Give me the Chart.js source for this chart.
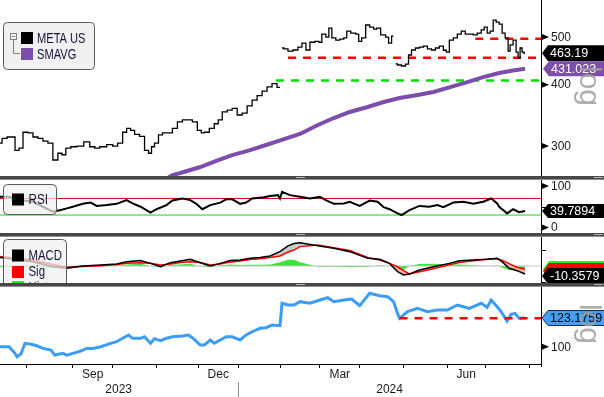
<!DOCTYPE html>
<html>
<head>
<meta charset="utf-8">
<script src="https://cdn.jsdelivr.net/npm/chart.js@4.4.1/dist/chart.umd.min.js"></script>
<style>
html,body{margin:0;padding:0;background:#fff;}
body{width:604px;height:397px;overflow:hidden;position:relative;}
canvas{position:absolute;left:0;display:block;}
.sep{position:absolute;left:0;width:604px;height:4px;background:#474747;}
.sep::after{content:'';position:absolute;left:0;right:0;bottom:0;height:1px;background:#8e8e8e;}
.grip{position:absolute;height:1px;width:9px;background:#b4b4b4;}
</style>
</head>
<body>
<canvas id="cPrice" width="604" height="176" style="top:0px"></canvas>
<canvas id="cRsi" width="604" height="53" style="top:180px"></canvas>
<canvas id="cMacd" width="604" height="46" style="top:237px"></canvas>
<canvas id="cRel" width="604" height="110" style="top:287px"></canvas>
<div class="sep" style="top:176px"><div class="grip" style="left:296px;top:1px"></div><div class="grip" style="left:594px;top:1px"></div></div>
<div class="sep" style="top:233px"><div class="grip" style="left:296px;top:1px"></div><div class="grip" style="left:594px;top:1px"></div></div>
<div class="sep" style="top:283px"><div class="grip" style="left:296px;top:1px"></div><div class="grip" style="left:594px;top:1px"></div></div>
<script>
// ---------- axis (trading-day index, 0 = 1 Aug 2023) ----------
const xMin = -13.55, xMax = 258.0;
const monthTickIdx = [0,23,43,65,86,106,127,147,167,189,211,230,252];
const monthNames = ['Sep','Dec','Mar','Jun'];
const monthNamePos = [33,96,157,220.5];
const yearNames = ['2023','2024'];
const yearNamePos = [46,182];
const yearBreakIdx = 106;

// ---------- META US price (close) ----------
const priceIdx = [-14,-11,-9,-7,-5,-3,-1,2,4,7,9,12,14,17,18,21,23,27,30,33,35,38,42,44,47,49,51,53,55,58,60,62,63,65,67,69,72,74,77,79,82,84,87,88,90,93,95,97,99,102,104,107,109,112,114,117,119,122,124,127,127.5,128,130,132,135,137,139,141,143,146,147,149,151,152,154,156,158,160,161,164,166,167,169,171,173,175,176,179,181,182,184,184.5,185,187,189,191,192,194,196,198,200,202,204,206,208,210,211,213,215,217,219,221,223,225,227,229,230,232,233,235,236,238,239,241,242,243,245,246,247,248,249,250];
const priceClose = [304,311,313,313,294,297,320,319,313,311,307,304,281,290,288,297,299,300,306,299,297,299,302,300,304,320,326,323,317,314,294,290,299,304,316,319,319,326,336,339,339,336,323,319,320,326,333,339,352,355,358,347,350,362,372,380,388,396,402,395,null,475,473,468,470.5,477,486,470.5,488,490,488,507,500,521.5,498,493,495,498,514,509.5,507,490,498,529,524,519,521.5,505,500,486,502,null,441,438.6,436.5,440.6,459.6,470.5,475,477,479,473,470.5,475,479,470,466,493,498,507,514,507,507,505,509.5,517,524,509.5,514,541.5,536,531,509.5,498,468,482,493,466,453,475,466,463.19];
const priceLast = 463.19;

// ---------- SMAVG ----------
const smaIdx = [71,73,77,87,95,103,112,120,129,137,146,154,162,171,179,187,196,204,212,221,229,237,244,250];
const smaVals = [259,261.9,264.4,271.9,279.7,287.5,294.4,301.5,310,317.4,331.1,342.1,351.9,360.2,368.7,375.7,381,386.4,395,404.9,414.5,422.5,427.5,431.023];
const smaLast = 431.023;

// ---------- price levels (dashed) ----------
const redLevels = [496, 454];
const redLevelStart = [225, 131];
const greenLevel = 408;
const greenLevelStart = 125;
const priceTicks = [300, 400, 500];

// ---------- RSI ----------
const rsiIdx = [-14,-9,-4,3,8,13,17,20,23,28,32,35,40,45,50,53,57,62,65,70,73,78,82,85,88,92,97,100,103,107,110,113,119,122,126,127,128,132,137,142,147,150,154,159,162,167,172,176,179,182,186,188,192,197,202,206,209,214,219,224,229,233,236,237,241,244,247,250];
const rsiVals = [74,74,66,62,50,38,42,46,50,57,60,52,54,57,66,58,50,36,44,54,65,70,66,57,44,54,60,68,68,57,60,70,73,76,78,70,86,78,74,70,74,66,57,58,62,52,65,62,49,44,34,30,42,52,50,54,49,60,62,57,62,70,58,50,34,44,37,39.7894];
const rsiLevels = [70, 30];
const rsiLast = 39.7894;

// ---------- MACD ----------
const macdIdx = [-14,-5,3,13,20,28,37,45,50,57,62,67,72,77,82,87,92,97,102,107,112,117,122,127,131,134,137,146,154,162,171,177,182,186,189,192,197,204,212,217,224,231,236,239,242,246,250];
const macdVals = [11,8,5.5,-1,-3,0,1.3,2.6,5.5,7,3.4,-1,4.3,6.5,8.6,4.3,0,3.4,7,7.7,10,11,13,18.5,26,29,30,26,23,18.5,10,8.6,3.4,-7.3,-11.6,-10.3,-5.2,-0.9,3.4,6.8,7.7,8.6,10,4.3,-3,-6,-10.3579];
const sigVals = [12.5,10,7.7,2,-1.7,-0.5,0.4,2,3.5,4.3,3.5,1.3,2.5,4.5,5.5,4.5,1.3,2.5,5,6.5,8.5,9.4,11,13,18,20.6,25,27,23.6,20,11,7.7,3.4,-1,-6,-10.3,-7.5,-3.5,1.5,4.5,6.8,8.6,9.4,7,3,-1.5,-4.3];
const histVals = [-1.5,-1,-2,-2,-1,0.5,1,0.6,2,3,0,-2,1.5,2,3,-0.5,-1.5,1,2,1.2,1.5,1.6,2,5,8,8,5,-1,-0.6,-1.5,-1,1,0,-5,-5,0,2.5,3,2,2,1,0,0.5,-2.5,-5,-4,-6];
const macdLast = -10.3579;

// ---------- relative line (blue) ----------
const relIdx = [-14,-9,-6,-5,-3,-1,2,5,8,12,14,18,20,23,27,30,33,37,42,45,48,51,53,57,59,62,64,67,70,73,78,81,83,87,89,92,94,97,100,103,107,110,113,117,120,123,127,128,131,134,137,142,147,151,154,159,163,167,172,177,181,184,186,187,191,196,201,206,211,216,219,222,228,231,233,236,238,241,243,245,247,250];
const relVals = [100,100,95.3,93,95,102.5,101.8,100.7,98.8,97.6,94.1,95.3,94.1,95.3,96.9,98.8,98.8,100,102.5,103.7,106.3,108.9,106.3,106.3,107.5,102.5,106,104.5,106.3,107.5,108.1,108.9,106.8,101.2,101.2,105,102.5,105,107.5,107.5,105,108.9,111.5,114.3,114.8,117,116.5,137.1,135.4,135.4,138.7,137.1,140.4,142.8,138.7,140.4,141.4,134.7,147.4,144.8,143.8,138.7,127.4,122.9,129,132.1,129,130.5,130.5,135.4,133.7,132.1,137.1,133.2,140.4,133.7,129,120.5,126.5,127.4,122.9,123.1759];
const relLevel = 123.0;
const relLevelStart = 187;
const relLast = 123.1759;

// ---------- helpers ----------
const FONT = '"Liberation Sans", Arial, sans-serif';
const pts = (xs, ys) => xs.map((x, i) => ({x: x, y: ys[i]}));
const hline = (v, x0) => [{x: x0, y: v}, {x: xMax, y: v}];

function tri(ctx, x, y) {
  ctx.beginPath(); ctx.moveTo(x, y - 3); ctx.lineTo(x + 7, y); ctx.lineTo(x, y + 3); ctx.closePath();
  ctx.fillStyle = '#000'; ctx.fill();
}
function tickLabel(ctx, txt, x, y) {
  ctx.fillStyle = '#1a1a1a'; ctx.font = '12px ' + FONT; ctx.textBaseline = 'middle'; ctx.textAlign = 'left';
  ctx.fillText(txt, x, y);
}
function minorTick(ctx, x, y) {
  ctx.beginPath(); ctx.moveTo(x, Math.round(y) + 0.5); ctx.lineTo(x + 4, Math.round(y) + 0.5);
  ctx.strokeStyle = '#000'; ctx.lineWidth = 1; ctx.stroke();
}
function tag(ctx, x0, yc, h, fill, stroke, txt, txtColor) {
  const half = h / 2;
  ctx.beginPath(); ctx.moveTo(x0, yc); ctx.lineTo(x0 + 6, yc - half); ctx.lineTo(612, yc - half);
  ctx.lineTo(612, yc + half); ctx.lineTo(x0 + 6, yc + half); ctx.closePath();
  ctx.fillStyle = fill; ctx.fill();
  if (stroke) { ctx.strokeStyle = stroke; ctx.lineWidth = 1; ctx.stroke(); }
  if (txt) {
    ctx.fillStyle = txtColor; ctx.font = '12.5px ' + FONT; ctx.textBaseline = 'middle'; ctx.textAlign = 'left';
    ctx.fillText(txt, x0 + 8, yc + 0.5);
  }
}
function condText(ctx, txt, x, y, size, sx, color) {
  ctx.save(); ctx.translate(x, y); ctx.scale(sx, 1);
  ctx.font = size + 'px ' + FONT; ctx.fillStyle = color; ctx.textBaseline = 'middle'; ctx.textAlign = 'left';
  ctx.fillText(txt, 0, 0); ctx.restore();
}
function roundRect(ctx, x, y, w, h, r, fill, stroke) {
  ctx.beginPath(); ctx.moveTo(x + r, y); ctx.arcTo(x + w, y, x + w, y + h, r); ctx.arcTo(x + w, y + h, x, y + h, r);
  ctx.arcTo(x, y + h, x, y, r); ctx.arcTo(x, y, x + w, y, r); ctx.closePath();
  ctx.fillStyle = fill; ctx.fill(); ctx.strokeStyle = stroke; ctx.lineWidth = 1; ctx.stroke();
}
function logMark(ctx, x, y) {
  ctx.save(); ctx.translate(x, y); ctx.rotate(Math.PI / 2);
  ctx.font = '30px ' + FONT; ctx.fillStyle = 'rgba(160,160,160,0.85)'; ctx.textBaseline = 'alphabetic'; ctx.textAlign = 'left';
  ctx.fillText('log', 0, 0); ctx.restore();
}
function axisLine(chart, extra) {
  const ctx = chart.ctx, x = Math.round(chart.chartArea.right) + 0.5;
  ctx.beginPath(); ctx.moveTo(x, 0); ctx.lineTo(x, chart.chartArea.bottom + (extra || 0));
  ctx.strokeStyle = '#000'; ctx.lineWidth = 1; ctx.stroke();
}

function xHidden() {
  return {type: 'linear', min: xMin, max: xMax, display: false};
}
function yRight(type, min, max) {
  return {type: type, position: 'right', min: min, max: max,
    afterFit: s => { s.width = 63; },
    ticks: {display: false}, grid: {display: false}, border: {display: false}};
}
function baseOptions(scales, plugins) {
  return {
    responsive: false, animation: false, events: [],
    layout: {padding: 0},
    plugins: Object.assign({legend: {display: false}, tooltip: {enabled: false}, filler: {drawTime: 'beforeDatasetsDraw'}}, plugins || {}),
    elements: {point: {radius: 0}, line: {tension: 0}},
    scales: scales
  };
}
const lineDs = (data, color, width, extra) => Object.assign({data: data, borderColor: color, borderWidth: width, pointRadius: 0, fill: false}, extra || {});

// ---------- price panel ----------
new Chart(document.getElementById('cPrice'), {
  type: 'line',
  data: {datasets: [
    lineDs(pts(priceIdx, priceClose), '#000', 1.3, {order: 0, stepped: 'middle'}),
    lineDs(pts(smaIdx, smaVals), '#7c4daa', 4, {order: 1}),
    lineDs(hline(redLevels[0], redLevelStart[0]), '#ff0000', 2.5, {order: 2, borderDash: [8, 7]}),
    lineDs(hline(redLevels[1], redLevelStart[1]), '#ff0000', 2.5, {order: 2, borderDash: [8, 7]}),
    lineDs(hline(greenLevel, greenLevelStart), '#00e000', 2.5, {order: 3, borderDash: [8, 7]})
  ]},
  options: baseOptions({x: xHidden(), y: yRight('logarithmic', 260.7, 594.8)}),
  plugins: [{
    id: 'priceDecor',
    afterDraw(chart) {
      const ctx = chart.ctx, y = chart.scales.y, R = chart.chartArea.right;
      axisLine(chart);
      priceTicks.forEach(v => { const py = y.getPixelForValue(v); tri(ctx, R + 1, py); tickLabel(ctx, String(v), R + 10, py + 0.5); });
      tag(ctx, R + 1, y.getPixelForValue(priceLast), 16, '#000', null, priceLast.toFixed(2), '#fff');
      tag(ctx, R + 2, y.getPixelForValue(smaLast), 15, '#7c4daa', null, String(smaLast), '#fff');
      logMark(ctx, 580, 66);
      // legend
      roundRect(ctx, 3.5, 22.5, 91, 47, 4, '#f0f0f0', '#5a5a5a');
      ctx.strokeStyle = '#808080'; ctx.lineWidth = 1;
      ctx.strokeRect(10.5, 33.5, 6, 6);
      ctx.beginPath(); ctx.moveTo(12, 36.5); ctx.lineTo(15, 36.5); ctx.stroke();
      ctx.beginPath(); ctx.moveTo(13.5, 40); ctx.lineTo(13.5, 53.5); ctx.lineTo(20, 53.5); ctx.stroke();
      ctx.fillStyle = '#000'; ctx.fillRect(21, 32, 12, 12);
      ctx.fillStyle = '#7c4daa'; ctx.fillRect(21, 48, 12, 12);
      condText(ctx, 'META US', 37, 38.5, 15, 0.74, '#14143a');
      condText(ctx, 'SMAVG', 37, 54.5, 15, 0.74, '#14143a');
    }
  }]
});

// ---------- RSI panel ----------
new Chart(document.getElementById('cRsi'), {
  type: 'line',
  data: {datasets: [
    lineDs(pts(rsiIdx, rsiVals), '#000', 2, {order: 0}),
    lineDs(hline(rsiLevels[0], xMin), '#e00000', 1, {order: 1}),
    lineDs(hline(rsiLevels[1], xMin), '#22cc22', 1, {order: 1})
  ]},
  options: baseOptions({x: xHidden(), y: yRight('linear', -13.3, 114.5)}),
  plugins: [{
    id: 'rsiDecor',
    afterDraw(chart) {
      const ctx = chart.ctx, y = chart.scales.y, R = chart.chartArea.right;
      roundRect(ctx, 3.5, 4.5, 53, 30, 4, 'rgba(240,240,240,0.72)', '#5a5a5a');
      ctx.fillStyle = '#000'; ctx.fillRect(12, 13.5, 12, 12);
      condText(ctx, 'RSI', 28.5, 20, 15, 0.78, '#14143a');
      axisLine(chart);
      [100, 0].forEach(v => { const py = y.getPixelForValue(v); tri(ctx, R + 1, py); tickLabel(ctx, String(v), R + 10, py + 0.5); });
      minorTick(ctx, R + 1, y.getPixelForValue(50));
      tag(ctx, R + 1, y.getPixelForValue(rsiLast), 14, '#000', null, String(rsiLast), '#fff');
    }
  }]
});

// ---------- MACD panel ----------
new Chart(document.getElementById('cMacd'), {
  type: 'line',
  data: {datasets: [
    lineDs(pts(macdIdx, macdVals), '#000', 1.5, {order: 0, fill: {target: 1, above: 'rgba(185,185,185,0.75)', below: 'rgba(255,160,160,0.8)'}}),
    lineDs(pts(macdIdx, sigVals), '#ff0000', 1.5, {order: 1}),
    lineDs(hline(0, xMin), '#c4c4c4', 1, {order: 3}),
    lineDs(pts(macdIdx, histVals), 'rgba(0,0,0,0)', 0, {order: 4, fill: 'origin', backgroundColor: '#3ee23e'})
  ]},
  options: baseOptions({x: xHidden(), y: yRight('linear', -21.9, 37.4)}),
  plugins: [{
    id: 'macdDecor',
    afterDraw(chart) {
      const ctx = chart.ctx, y = chart.scales.y, R = chart.chartArea.right;
      roundRect(ctx, 3.5, 2.5, 63, 62, 4, 'rgba(240,240,240,0.72)', '#5a5a5a');
      ctx.fillStyle = '#000'; ctx.fillRect(12, 12.5, 12, 12);
      ctx.fillStyle = '#ff0000'; ctx.fillRect(12, 29, 12, 12);
      ctx.fillStyle = '#22ee22'; ctx.fillRect(12, 44, 12, 12);
      condText(ctx, 'MACD', 28.5, 18.5, 15, 0.76, '#14143a');
      condText(ctx, 'Sig', 28.5, 35, 15, 0.76, '#14143a');
      condText(ctx, 'Hist', 28.5, 50.5, 15, 0.76, '#14143a');
      axisLine(chart);
      minorTick(ctx, R + 1, y.getPixelForValue(20));
      minorTick(ctx, R + 1, y.getPixelForValue(-20));
      const py = y.getPixelForValue(macdLast) + 2;
      tag(ctx, R + 2, py - 7, 16, '#22ee22', null, null);
      tag(ctx, R + 2, py - 5, 16, '#ff0000', null, null);
      tag(ctx, R + 1, py, 16, '#000', null, String(macdLast), '#fff');
    }
  }]
});

// ---------- relative (blue) panel with x axis ----------
new Chart(document.getElementById('cRel'), {
  type: 'line',
  data: {datasets: [
    lineDs(hline(relLevel, relLevelStart), '#ff0000', 2.5, {order: 0, borderDash: [8, 7]}),
    lineDs(pts(relIdx, relVals), '#3d9cf5', 3, {order: 1})
  ]},
  options: baseOptions({
    x: {type: 'linear', min: xMin, max: xMax, position: 'bottom',
      afterBuildTicks: s => { s.ticks = monthTickIdx.map(v => ({value: v})); },
      afterFit: s => { s.height = 33; },
      ticks: {display: false},
      grid: {display: true, drawOnChartArea: false, drawTicks: true, tickLength: 4, color: '#000', lineWidth: 1},
      border: {display: true, color: '#000', width: 1}},
    y: yRight('logarithmic', 88.2, 154.3)
  }),
  plugins: [{
    id: 'relDecor',
    afterDraw(chart) {
      const ctx = chart.ctx, y = chart.scales.y, x = chart.scales.x, R = chart.chartArea.right, B = chart.chartArea.bottom;
      axisLine(chart, 3);
      const p100 = y.getPixelForValue(100); tri(ctx, R + 1, p100); tickLabel(ctx, '100', R + 10, p100 + 0.5);
      tag(ctx, R + 1, y.getPixelForValue(relLast), 15, '#45a0f5', '#1a2a40', String(relLast), '#000');
      logMark(ctx, 580, 17);
      ctx.fillStyle = '#1a1a1a'; ctx.font = '12px ' + FONT; ctx.textAlign = 'center'; ctx.textBaseline = 'middle';
      monthNames.forEach((m, i) => ctx.fillText(m, x.getPixelForValue(monthNamePos[i]), B + 11));
      yearNames.forEach((m, i) => ctx.fillText(m, x.getPixelForValue(yearNamePos[i]), B + 26));
      const bx = Math.round(x.getPixelForValue(yearBreakIdx)) + 0.5;
      ctx.beginPath(); ctx.moveTo(bx, B + 18); ctx.lineTo(bx, B + 33); ctx.strokeStyle = '#8a8a8a'; ctx.lineWidth = 1; ctx.stroke();
    }
  }]
});
</script>
</body>
</html>
